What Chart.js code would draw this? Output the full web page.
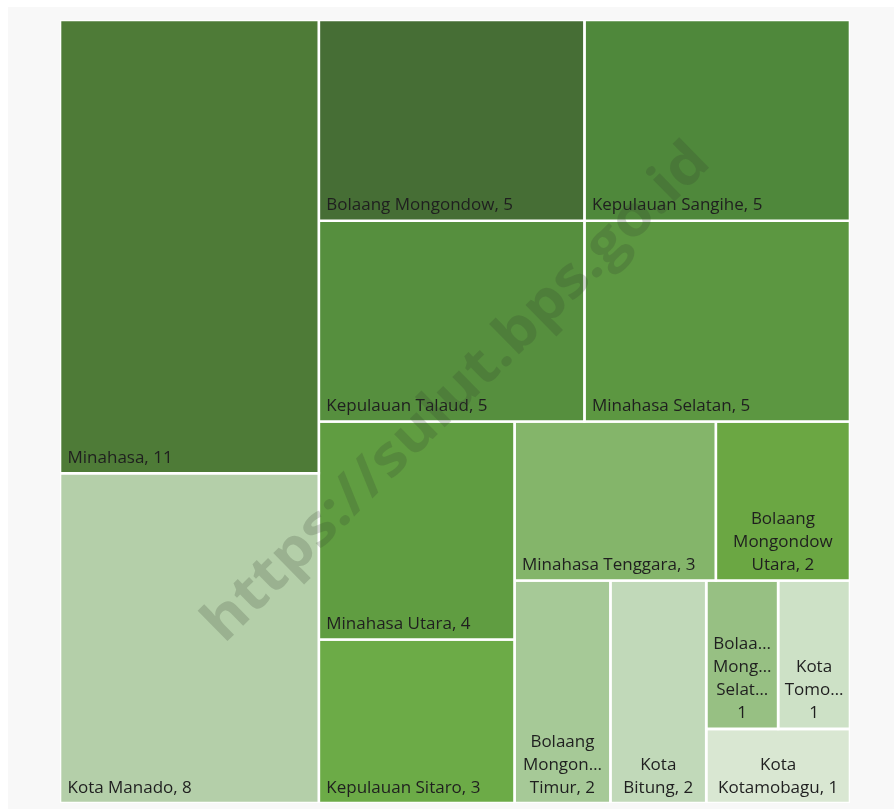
<!DOCTYPE html>
<html>
<head>
<meta charset="utf-8">
<script src="https://cdn.jsdelivr.net/npm/chart.js@4.4.1/dist/chart.umd.min.js"></script>
<style>
  html, body { margin: 0; padding: 0; background: #fff; overflow: hidden; }
  .card { position: absolute; left: 8px; top: 7px; width: 900px; height: 820px; background: #f8f8f8; }
  #chart { position: absolute; left: 0; top: 0; }
</style>
</head>
<body>
<div class="card"></div>
<canvas id="chart" width="894" height="809"></canvas>
<script>
const regions = ['Minahasa', 'Kota Manado', 'Bolaang Mongondow', 'Kepulauan Sangihe', 'Kepulauan Talaud',
  'Minahasa Selatan', 'Minahasa Utara', 'Kepulauan Sitaro', 'Minahasa Tenggara', 'Bolaang Mongondow Utara',
  'Bolaang Mongondow Timur', 'Kota Bitung', 'Bolaang Mongondow Selatan', 'Kota Tomohon', 'Kota Kotamobagu'];
const counts = [11, 8, 5, 5, 5, 5, 4, 3, 3, 2, 2, 2, 1, 1, 1];
const tileColors = ['#4e7b37', '#b4cfa9', '#466e35', '#4f883b', '#568f3e', '#5c9741', '#609d41', '#6cab47',
  '#84b56a', '#6ba743', '#a6c997', '#c1d9b9', '#97c083', '#cde1c6', '#d9e7d2'];

// squarified layout, wide tiles are penalised a bit more than tall ones
function tileCost(w, h) {
  return w >= h ? Math.pow(w / h, 1.7) : h / w;
}

function rowCost(row, side, unit, vertical) {
  const thick = row.reduce((a, b) => a + b, 0) * unit / side;
  return Math.max(...row.map(v => {
    const len = v * unit / thick;
    return vertical ? tileCost(thick, len) : tileCost(len, thick);
  }));
}

function layoutTiles(vals, W, H) {
  const unit = W * H / vals.reduce((a, b) => a + b, 0);
  let x = 0, y = 0, w = W, h = H, i = 0;
  const out = [];
  while (i < vals.length) {
    const vertical = w >= h;
    const side = vertical ? h : w;
    const row = [vals[i]];
    let best = rowCost(row, side, unit, vertical);
    let j = i + 1;
    while (j < vals.length) {
      const c = rowCost(row.concat(vals[j]), side, unit, vertical);
      if (c > best) break;
      row.push(vals[j]);
      best = c;
      j++;
    }
    const thick = row.reduce((a, b) => a + b, 0) * unit / side;
    let off = 0;
    row.forEach(v => {
      const len = v * unit / thick;
      out.push(vertical ? { x: x, y: y + off, w: thick, h: len } : { x: x + off, y: y, w: len, h: thick });
      off += len;
    });
    if (vertical) { x += thick; w -= thick; } else { y += thick; h -= thick; }
    i = j;
  }
  return out;
}

function fitWord(ctx, word, avail) {
  if (ctx.measureText(word).width <= avail) return word;
  let s = word;
  while (s.length > 1 && ctx.measureText(s + '…').width > avail) s = s.slice(0, -1);
  return s + '…';
}

function wrapLabel(ctx, text, avail) {
  const lines = [];
  let cur = '';
  text.split(' ').forEach(word => {
    const trial = cur ? cur + ' ' + word : word;
    if (!cur || ctx.measureText(trial).width <= avail) {
      cur = trial;
    } else {
      lines.push(cur);
      cur = word;
    }
  });
  lines.push(cur);
  return lines.map(l => fitWord(ctx, l, avail));
}

const tileLabels = {
  id: 'tileLabels',
  afterDatasetsDraw(chart) {
    const ctx = chart.ctx;
    ctx.save();
    ctx.font = '17px "Open Sans"';
    ctx.fillStyle = '#1f1f1f';
    ctx.textBaseline = 'alphabetic';
    chart.data.datasets.forEach((ds, i) => {
      const pts = chart.getDatasetMeta(i).data;
      if (pts.length < 3) return;
      const left = pts[0].x, right = pts[2].x, bottom = pts[2].y;
      const text = regions[i] + ', ' + counts[i];
      const avail = right - left - 12;
      const baseY = bottom - 10.5;
      if (ctx.measureText(text).width <= avail - 4) {
        ctx.textAlign = 'left';
        ctx.fillText(text, left + 7.5, baseY);
        return;
      }
      const lines = wrapLabel(ctx, text, avail);
      ctx.textAlign = 'center';
      const cx = (left + right) / 2;
      lines.forEach((ln, k) => ctx.fillText(ln, cx, baseY - (lines.length - 1 - k) * 23));
    });
    ctx.restore();
  }
};

const watermark = {
  id: 'watermark',
  afterDraw(chart) {
    const ctx = chart.ctx;
    const txt = 'https://sulut.bps.go.id';
    ctx.save();
    ctx.font = 'bold 56px "Open Sans"';
    const sx = 685 / ctx.measureText(txt).width;
    ctx.translate(457, 393);
    ctx.rotate(-44.5 * Math.PI / 180);
    ctx.scale(sx, 1);
    ctx.textAlign = 'center';
    ctx.textBaseline = 'middle';
    ctx.fillStyle = 'rgba(50, 60, 45, 0.2)';
    ctx.fillText(txt, 0, 0);
    ctx.restore();
  }
};

const chart = new Chart(document.getElementById('chart'), {
  type: 'scatter',
  data: { datasets: [] },
  options: {
    responsive: false,
    animation: false,
    layout: { padding: { left: 60, top: 20, right: 44, bottom: 6 } },
    scales: {
      x: { type: 'linear', min: 0, max: 100, display: false },
      y: { type: 'linear', min: 0, max: 100, reverse: true, display: false }
    },
    plugins: { legend: { display: false }, tooltip: { enabled: false } },
    elements: { point: { radius: 0, hoverRadius: 0 }, line: { tension: 0 } }
  },
  plugins: [tileLabels, watermark]
});

const area = chart.chartArea;
const W = area.right - area.left, H = area.bottom - area.top;
const tiles = layoutTiles(counts, W, H);

chart.data.datasets = tiles.map((t, i) => {
  const x0 = t.x / W * 100, x1 = (t.x + t.w) / W * 100;
  const y0 = t.y / H * 100, y1 = (t.y + t.h) / H * 100;
  return {
    label: regions[i],
    data: [{ x: x0, y: y0 }, { x: x1, y: y0 }, { x: x1, y: y1 }, { x: x0, y: y1 }, { x: x0, y: y0 }],
    showLine: true,
    fill: 'shape',
    backgroundColor: tileColors[i],
    borderColor: '#ffffff',
    borderWidth: 2.6,
    borderJoinStyle: 'miter',
    pointRadius: 0
  };
});
chart.update();
</script>
</body>
</html>
